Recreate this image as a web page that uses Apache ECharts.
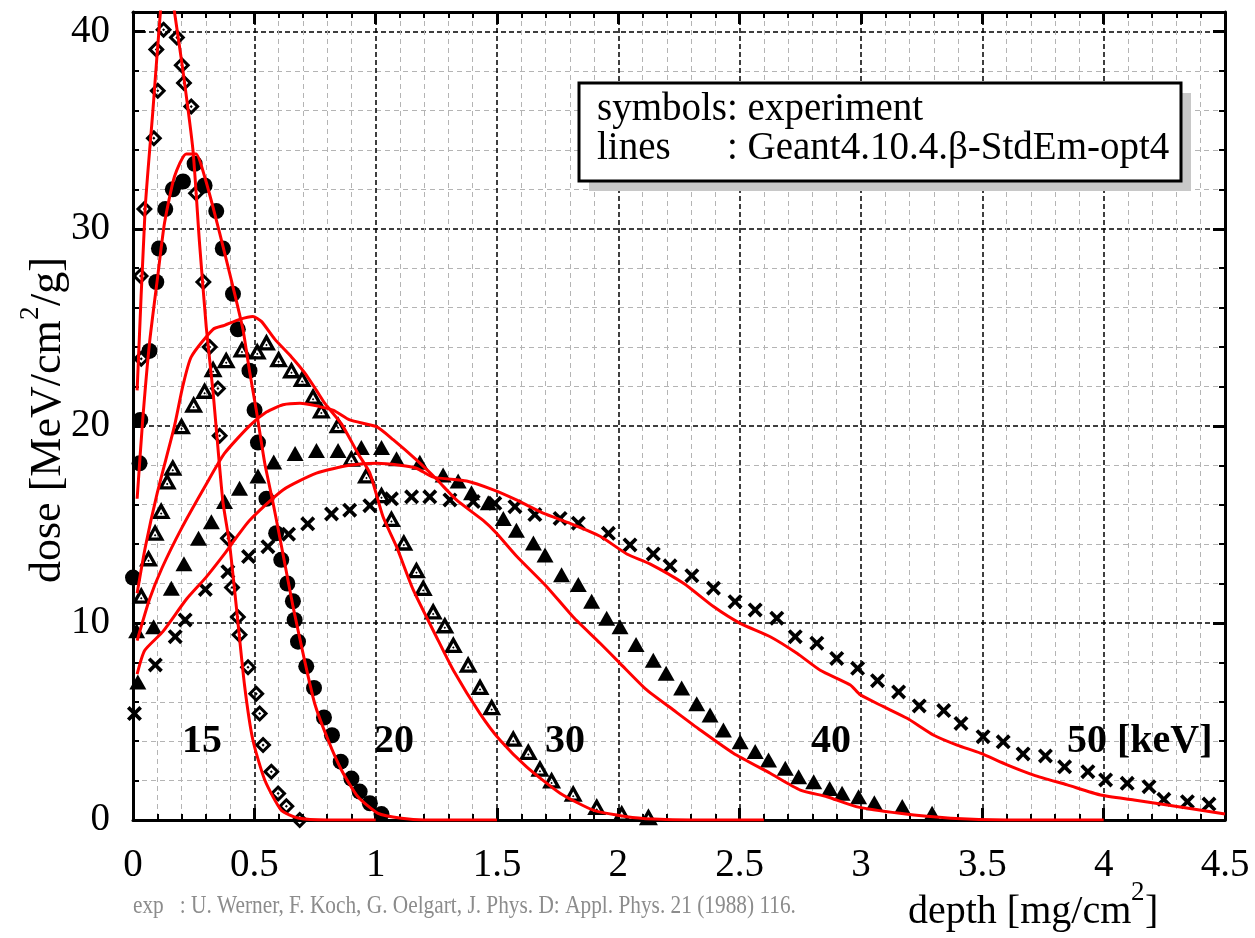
<!DOCTYPE html>
<html>
<head>
<meta charset="utf-8">
<title>dose vs depth</title>
<script src="https://cdn.jsdelivr.net/npm/echarts@6.0.0/dist/echarts.min.js"></script>
<style>
    html, body { margin: 0; padding: 0; background: #fff; }
    #main { width: 1255px; height: 938px; }
</style>
</head>
<body>
<div id="main"></div>
<script>
// experiment, Werner et al. 1988 : [depth mg/cm2, dose MeV cm2/g]
var exp15 = [[0.031,27.6],[0.034,23.4],[0.047,31.0],[0.086,34.6],[0.096,39.1],[0.102,37.0],[0.126,40.1],
    [0.181,39.7],[0.201,38.3],[0.21,37.4],[0.24,36.2],[0.26,31.8],[0.29,27.3],[0.316,24.0],[0.35,21.9],
    [0.357,19.5],[0.391,14.3],[0.408,11.8],[0.432,10.3],[0.439,9.4],[0.474,7.75],[0.508,6.4],[0.522,5.4],
    [0.536,3.8],[0.57,2.45],[0.598,1.35],[0.632,0.7],[0.687,0]];
var exp20 = [[0,12.3],[0.027,18.1],[0.03,20.3],[0.068,23.8],[0.096,27.3],[0.107,29.0],[0.133,31.0],
    [0.164,32.0],[0.206,32.4],[0.254,33.3],[0.295,32.2],[0.343,30.9],[0.37,29.0],[0.412,26.7],[0.432,24.9],
    [0.48,22.8],[0.501,20.8],[0.515,19.15],[0.55,16.3],[0.59,14.55],[0.611,13.2],[0.636,12.0],[0.659,11.1],
    [0.666,10.15],[0.68,9.05],[0.714,7.8],[0.746,6.7],[0.787,5.2],[0.82,4.3],[0.856,2.96],[0.9,2.1],
    [0.934,1.44],[0.976,0.85],[1.024,0.3]];
var exp30 = [[0.034,11.4],[0.064,13.3],[0.091,14.6],[0.116,15.7],[0.141,17.2],[0.164,17.9],[0.2,20.0],
    [0.25,21.1],[0.295,21.8],[0.33,22.9],[0.384,23.35],[0.449,23.9],[0.512,23.8],[0.55,24.25],[0.6,23.4],
    [0.653,22.84],[0.697,22.4],[0.742,21.5],[0.776,20.8],[0.845,20.05],[0.9,18.36],[0.962,17.5],[1.024,16.5],
    [1.065,15.3],[1.116,14.1],[1.168,12.7],[1.196,11.8],[1.237,10.6],[1.285,9.9],[1.32,8.9],[1.381,7.9],
    [1.43,6.77],[1.478,5.75],[1.567,4.15],[1.629,3.47],[1.677,2.62],[1.725,2.03],[1.814,1.36],[1.911,0.68],
    [2.014,0.34],[2.124,0.17]];
var exp40 = [[0.02,7.0],[0.015,9.6],[0.085,9.8],[0.158,11.76],[0.21,13.0],[0.27,14.3],[0.323,15.14],
    [0.377,16.16],[0.439,16.84],[0.515,17.46],[0.58,18.17],[0.668,18.6],[0.756,18.75],[0.845,18.75],
    [0.941,18.9],[1.024,18.9],[1.086,18.33],[1.182,18.15],[1.278,17.5],[1.34,17.2],[1.395,16.6],[1.464,16.1],
    [1.526,15.3],[1.58,14.7],[1.65,14.05],[1.698,13.45],[1.766,12.45],[1.835,11.95],[1.89,11.1],[1.952,10.24],
    [2.007,9.8],[2.073,8.9],[2.144,8.1],[2.197,7.45],[2.261,6.7],[2.323,5.9],[2.378,5.33],[2.433,4.57],
    [2.502,3.97],[2.564,3.47],[2.619,3.05],[2.688,2.62],[2.743,2.2],[2.805,1.94],[2.871,1.6],[2.922,1.36],
    [2.99,1.18],[3.055,0.88],[3.17,0.68],[3.293,0.34]];
var exp50 = [[0.006,5.4],[0.092,7.87],[0.174,9.3],[0.215,10.15],[0.298,11.7],[0.391,12.6],[0.476,13.37],
    [0.556,13.87],[0.641,14.5],[0.72,15.03],[0.818,15.53],[0.893,15.72],[0.976,15.95],[1.065,16.3],
    [1.148,16.4],[1.223,16.4],[1.306,16.24],[1.402,16.16],[1.491,16.07],[1.574,15.9],[1.656,15.5],[1.76,15.3],
    [1.835,15.06],[1.959,14.55],[2.048,13.96],[2.144,13.5],[2.213,12.9],[2.303,12.4],[2.392,11.76],
    [2.481,11.08],[2.564,10.66],[2.653,10.24],[2.729,9.3],[2.818,8.97],[2.9,8.2],[2.986,7.7],[3.068,7.07],
    [3.155,6.5],[3.24,5.79],[3.341,5.55],[3.412,4.9],[3.503,4.23],[3.586,3.97],[3.668,3.35],[3.76,3.25],
    [3.839,2.7],[3.935,2.45],[4.008,2.03],[4.097,1.86],[4.187,1.69],[4.248,1.05],[4.345,0.93],[4.434,0.81]];

// Geant4.10.4.beta StdEm-opt4
var g4_15 = [[0.017,21.8],[0.05,31],[0.082,36],[0.113,41],[0.14,44],[0.171,41],[0.205,38.1],[0.247,34.0],
    [0.274,29.3],[0.302,25.0],[0.33,21.7],[0.37,16.2],[0.398,14.0],[0.426,10.8],[0.46,6.8],[0.494,4.06],
    [0.543,2.03],[0.611,0.5],[0.68,0.1],[0.8,0],[1.0,0]];
var g4_20 = [[0.017,16.3],[0.04,20.3],[0.068,24.2],[0.102,27.6],[0.13,30.3],[0.171,32.65],[0.219,33.8],
    [0.26,33.8],[0.295,32.65],[0.336,30.8],[0.377,28.8],[0.419,26.7],[0.453,24.9],[0.48,22.8],[0.508,20.8],
    [0.543,18.1],[0.577,16.1],[0.618,13.5],[0.66,10.8],[0.707,8.1],[0.749,5.9],[0.804,4.06],[0.859,2.54],
    [0.927,1.18],[1.01,0.34],[1.106,0.09],[1.2,0],[1.5,0]];
var g4_30 = [[0.017,11.5],[0.05,13.8],[0.1,16.6],[0.171,20.0],[0.205,22.0],[0.24,23.5],[0.33,24.9],
    [0.377,25.1],[0.439,25.4],[0.494,25.55],[0.529,25.3],[0.584,24.4],[0.653,23.5],[0.707,22.7],[0.756,21.8],
    [0.79,21.15],[0.859,20.1],[0.927,18.6],[0.976,17.6],[1.03,15.4],[1.086,13.87],[1.154,11.7],[1.25,9.3],
    [1.32,7.6],[1.43,5.4],[1.512,4.06],[1.622,2.7],[1.76,1.36],[1.897,0.5],[2.035,0.17],[2.145,0.05],
    [2.3,0],[2.6,0]];
var g4_40 = [[0.017,9.1],[0.068,11.2],[0.12,12.8],[0.2,14.8],[0.3,17.0],[0.377,18.6],[0.48,20.0],
    [0.55,20.7],[0.618,21.07],[0.688,21.15],[0.824,20.8],[0.893,20.3],[1.003,19.96],[1.072,19.3],
    [1.168,18.27],[1.25,17.3],[1.333,16.24],[1.443,15.2],[1.498,14.55],[1.58,13.4],[1.705,11.84],
    [1.814,10.3],[1.925,8.97],[2.007,7.95],[2.117,6.6],[2.227,5.58],[2.337,4.57],[2.474,3.39],[2.626,2.37],
    [2.75,1.52],[2.86,1.18],[2.98,0.68],[3.16,0.34],[3.37,0.09],[3.6,0],[4.0,0]];
var g4_50 = [[0.017,7.4],[0.048,8.6],[0.123,9.56],[0.22,11.2],[0.3,12.3],[0.377,13.5],[0.43,14.4],
    [0.48,15.2],[0.618,16.75],[0.756,17.6],[0.893,18.0],[1.003,18.1],[1.1,18.0],[1.168,17.85],[1.237,17.4],
    [1.375,17.2],[1.485,16.75],[1.58,16.24],[1.69,15.57],[1.8,15.06],[1.925,14.4],[2.035,13.5],[2.13,13.0],
    [2.27,12.0],[2.392,10.83],[2.502,9.98],[2.626,9.3],[2.736,8.46],[2.832,7.6],[2.956,6.85],[2.997,6.35],
    [3.093,5.75],[3.19,5.16],[3.3,4.3],[3.396,3.8],[3.492,3.39],[3.602,2.8],[3.712,2.28],[3.85,1.78],
    [3.987,1.27],[4.125,1.02],[4.262,0.76],[4.5,0.3]];

var energyLabels = ['15', '20', '30', '40', '50 [keV]'];

var SERIF = '"Liberation Serif", "Times New Roman", serif';

// open symbols with a dot in the middle (inner path wound the other way -> hole)
var SYM_DIAMOND = 'path://M10,0L20,10L10,20L0,10Z M10,5L5,10L10,15L15,10Z M10,8.2L11.8,10L10,11.8L8.2,10Z';
var SYM_TRIDOT = 'path://M10,0L20,18L0,18Z M10,7.2L5.95,14.5L14.05,14.5Z M10,10.8L11.3,12.1L10,13.4L8.7,12.1Z';
var SYM_CROSS = 'path://M0,3.5L3.5,0L10,6.5L16.5,0L20,3.5L13.5,10L20,16.5L16.5,20L10,13.5L3.5,20L0,16.5L6.5,10Z';

function expSeries(name, data, symbol, size) {
    return {
        name: name,
        type: 'scatter',
        data: data,
        symbol: symbol,
        symbolSize: size,
        itemStyle: { color: '#000', opacity: 1 },
        z: 2
    };
}

function g4Series(name, data) {
    return {
        name: name,
        type: 'line',
        data: data,
        symbol: 'none',
        showSymbol: false,
        smooth: 0.2,
        clip: true,
        lineStyle: { color: '#ff0000', width: 3 },
        z: 3
    };
}

var frame = { onZero: false, lineStyle: { color: '#000', width: 3 } };
var majorTick = { inside: true, length: 12, lineStyle: { color: '#000', width: 3 } };
var minorTick = { show: true, splitNumber: 5, length: 6, lineStyle: { color: '#000', width: 2 } };

var option = {
    animation: false,
    backgroundColor: '#fff',
    grid: { left: 133, right: 30, top: 12, bottom: 118 },
    xAxis: [
        {
            type: 'value', position: 'bottom', min: 0, max: 4.5, interval: 0.5,
            axisLine: frame,
            axisTick: majorTick,
            minorTick: minorTick,
            axisLabel: { margin: 26, color: '#000', fontFamily: SERIF, fontSize: 39 },
            splitLine: { show: true, lineStyle: { color: '#000', width: 1.5, type: [5, 3] } },
            minorSplitLine: { show: true, lineStyle: { color: '#b4b4b4', width: 1, type: [5, 4] } }
        },
        {
            type: 'value', position: 'top', min: 0, max: 4.5, interval: 0.5,
            axisLine: frame,
            axisTick: majorTick,
            minorTick: minorTick,
            axisLabel: { show: false },
            splitLine: { show: false }
        }
    ],
    yAxis: [
        {
            type: 'value', position: 'left', min: 0, max: 41, interval: 10,
            axisLine: frame,
            axisTick: majorTick,
            minorTick: minorTick,
            axisLabel: {
                margin: 23, color: '#000', fontFamily: SERIF, fontSize: 39, showMaxLabel: false,
                formatter: function (v) { return v % 10 === 0 ? String(v) : ''; }
            },
            splitLine: { show: true, lineStyle: { color: '#000', width: 1.5, type: [5, 3] } },
            minorSplitLine: { show: true, lineStyle: { color: '#b4b4b4', width: 1, type: [5, 4] } }
        },
        {
            type: 'value', position: 'right', min: 0, max: 41, interval: 10,
            axisLine: frame,
            axisTick: majorTick,
            minorTick: minorTick,
            axisLabel: { show: false },
            splitLine: { show: false }
        }
    ],
    series: [
        expSeries('15 keV exp', exp15, SYM_DIAMOND, 17),
        expSeries('20 keV exp', exp20, 'circle', 16),
        expSeries('30 keV exp', exp30, SYM_TRIDOT, [19, 17]),
        expSeries('40 keV exp', exp40, 'triangle', [17, 15]),
        expSeries('50 keV exp', exp50, SYM_CROSS, 15),
        g4Series('15 keV G4', g4_15),
        g4Series('20 keV G4', g4_20),
        g4Series('30 keV G4', g4_30),
        g4Series('40 keV G4', g4_40),
        g4Series('50 keV G4', g4_50)
    ],
    graphic: [
        // legend box with its shadow
        { type: 'rect', z: 10, shape: { x: 589, y: 93, width: 602, height: 98 }, style: { fill: '#c8c8c8' } },
        { type: 'rect', z: 11, shape: { x: 579, y: 83, width: 602, height: 98 },
          style: { fill: '#fff', stroke: '#000', lineWidth: 3 } },
        { type: 'text', z: 12, x: 597, y: 110,
          style: { text: 'symbols: experiment', font: '39px ' + SERIF, fill: '#000', textVerticalAlign: 'middle' } },
        { type: 'text', z: 12, x: 597, y: 149,
          style: { text: 'lines', font: '39px ' + SERIF, fill: '#000', textVerticalAlign: 'middle' } },
        { type: 'text', z: 12, x: 727, y: 149,
          style: { text: ': Geant4.10.4.\u03b2-StdEm-opt4', font: '39px ' + SERIF, fill: '#000', textVerticalAlign: 'middle' } },

        // energies
        { type: 'text', z: 12, x: 202, y: 742,
          style: { text: energyLabels[0], font: 'bold 40px ' + SERIF, fill: '#000', textAlign: 'center', textVerticalAlign: 'middle' } },
        { type: 'text', z: 12, x: 394, y: 742,
          style: { text: energyLabels[1], font: 'bold 40px ' + SERIF, fill: '#000', textAlign: 'center', textVerticalAlign: 'middle' } },
        { type: 'text', z: 12, x: 565, y: 742,
          style: { text: energyLabels[2], font: 'bold 40px ' + SERIF, fill: '#000', textAlign: 'center', textVerticalAlign: 'middle' } },
        { type: 'text', z: 12, x: 831, y: 742,
          style: { text: energyLabels[3], font: 'bold 40px ' + SERIF, fill: '#000', textAlign: 'center', textVerticalAlign: 'middle' } },
        { type: 'text', z: 12, x: 1067, y: 742,
          style: { text: energyLabels[4], font: 'bold 40px ' + SERIF, fill: '#000', textAlign: 'left', textVerticalAlign: 'middle' } },

        // y title, written bottom to top
        { type: 'text', x: 48, y: 583, rotation: Math.PI / 2,
          style: { text: 'dose [MeV/cm', font: '44px ' + SERIF, fill: '#000', textAlign: 'left', textVerticalAlign: 'middle' } },
        { type: 'text', x: 31, y: 320, rotation: Math.PI / 2,
          style: { text: '2', font: '27px ' + SERIF, fill: '#000', textAlign: 'left', textVerticalAlign: 'middle' } },
        { type: 'text', x: 48, y: 306, rotation: Math.PI / 2,
          style: { text: '/g]', font: '44px ' + SERIF, fill: '#000', textAlign: 'left', textVerticalAlign: 'middle' } },

        // x title
        { type: 'text', x: 908, y: 912,
          style: { text: 'depth [mg/cm', font: '40px ' + SERIF, fill: '#000', textAlign: 'left', textVerticalAlign: 'middle' } },
        { type: 'text', x: 1131, y: 893,
          style: { text: '2', font: '27px ' + SERIF, fill: '#000', textAlign: 'left', textVerticalAlign: 'middle' } },
        { type: 'text', x: 1145, y: 912,
          style: { text: ']', font: '40px ' + SERIF, fill: '#000', textAlign: 'left', textVerticalAlign: 'middle' } },

        // reference of the data
        { type: 'text', x: 133, y: 906, scaleX: 0.82,
          style: { text: 'exp   : U. Werner, F. Koch, G. Oelgart, J. Phys. D: Appl. Phys. 21 (1988) 116.',
                   font: '26px ' + SERIF, fill: '#8c8c8c', textAlign: 'left', textVerticalAlign: 'middle' } }
    ]
};

var myChart = echarts.init(document.getElementById('main'));
myChart.setOption(option);
</script>
</body>
</html>
